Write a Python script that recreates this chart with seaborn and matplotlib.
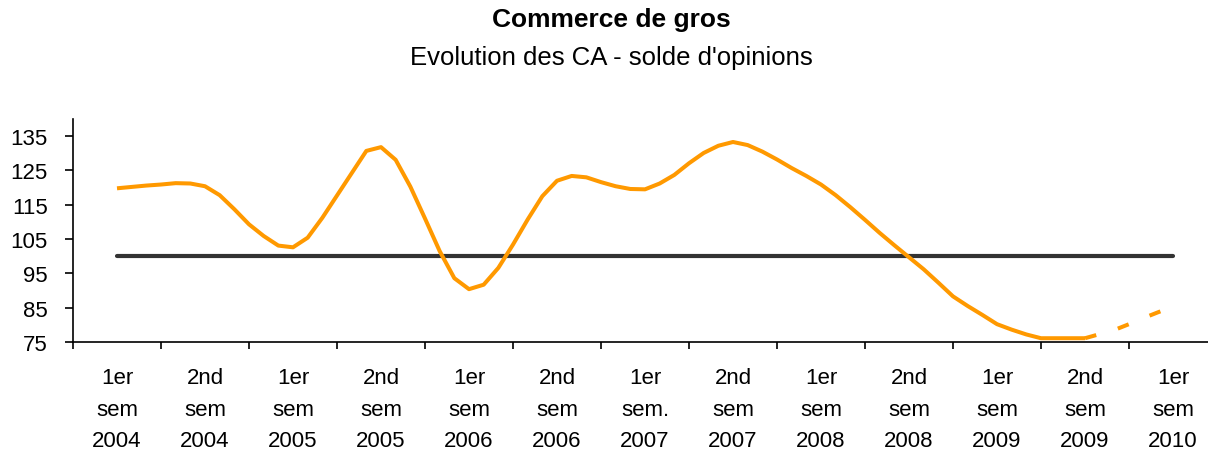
import numpy as np
import pandas as pd
import seaborn as sns
import matplotlib.pyplot as plt
from matplotlib.ticker import FixedLocator, NullFormatter, FixedFormatter

# semester labels on the category axis
semestres = [
    "1er\nsem\n2004", "2nd\nsem\n2004", "1er\nsem\n2005", "2nd\nsem\n2005",
    "1er\nsem\n2006", "2nd\nsem\n2006", "1er\nsem.\n2007", "2nd\nsem\n2007",
    "1er\nsem\n2008", "2nd\nsem\n2008", "1er\nsem\n2009", "2nd\nsem\n2009",
    "1er\nsem\n2010",
]

# monthly index, 0 = middle of first semester 2004
mois_observes = list(range(0, 67))
solde_observe = [
    119.8, 120.2, 120.6, 120.9, 121.3, 121.2, 120.4, 117.8, 113.7, 109.3,
    105.9, 103.1, 102.6, 105.4, 111.2, 117.7, 124.2, 130.7, 131.8, 128.1,
    120.3, 111.0, 101.5, 93.6, 90.4, 91.7, 96.6, 103.4, 110.7, 117.5,
    122.0, 123.4, 123.0, 121.6, 120.4, 119.6, 119.5, 121.2, 123.7, 127.1,
    130.1, 132.2, 133.3, 132.4, 130.5, 128.2, 125.7, 123.4, 120.9, 117.8,
    114.3, 110.6, 106.8, 103.2, 99.7, 96.2, 92.3, 88.3, 85.5, 82.9,
    80.2, 78.6, 77.2, 76.1, 76.1, 76.1, 76.1,
]

# forecast part (dashed)
mois_prevus = list(range(66, 73))
solde_prevu = [76.1, 77.3, 78.5, 80.2, 82.0, 83.7, 85.3]

# reference level
mois_reference = [0, 72]
niveau_reference = [100, 100]

y_ticks = [75, 85, 95, 105, 115, 125, 135]

sns.set_style("white")
plt.rcParams['font.family'] = ['Liberation Sans', 'DejaVu Sans']
plt.rcParams['text.color'] = 'black'
plt.rcParams['xtick.color'] = 'black'
plt.rcParams['ytick.color'] = 'black'

fig = plt.figure(figsize=(12.08, 4.52), dpi=100)
ax = fig.add_axes([73 / 1208, 109 / 452, 1144 / 1208, 223 / 452])

orange = '#FF9900'
sns.lineplot(x=mois_reference, y=niveau_reference, ax=ax, color='#333333',
             linewidth=3.0, solid_capstyle='round')
sns.lineplot(x=mois_observes, y=solde_observe, ax=ax, color=orange,
             linewidth=2.9, solid_capstyle='butt', solid_joinstyle='round')
sns.lineplot(x=mois_prevus, y=solde_prevu, ax=ax, color=orange,
             linewidth=2.9, linestyle=(0, (2.9, 5.6)), dash_capstyle='butt')

ax.set_xlim(-3, 75)
ax.set_ylim(75, 140)

# tick marks on semester boundaries, labels on centres
ax.xaxis.set_major_locator(FixedLocator([-3 + 6 * i for i in range(14)]))
ax.xaxis.set_major_formatter(NullFormatter())
ax.xaxis.set_minor_locator(FixedLocator([6 * i for i in range(len(semestres))]))
ax.xaxis.set_minor_formatter(FixedFormatter(semestres))
ax.tick_params(axis='x', which='major', bottom=True, direction='out', length=5,
               width=1.2, color='black')
ax.tick_params(axis='x', which='minor', bottom=True, length=0, pad=18,
               labelsize=16, labelcolor='black')
for lab in ax.xaxis.get_minorticklabels():
    lab.set_linespacing(1.66)

ax.set_yticks(y_ticks)
ax.tick_params(axis='y', left=True, direction='out', length=6, width=1.2,
               color='black', labelsize=16, labelcolor='black', pad=12)

ax.set_xlabel('')
ax.set_ylabel('')
sns.despine(ax=ax)
for side in ['left', 'bottom']:
    ax.spines[side].set_color('black')
    ax.spines[side].set_linewidth(1.2)

fig.text(611 / 1208, 1 - 20 / 452, 'Commerce de gros', ha='center', va='center',
         fontsize=19, fontweight='bold', color='black')
fig.text(611 / 1208, 1 - 58 / 452, "Evolution des CA - solde d'opinions",
         ha='center', va='center', fontsize=18.5, color='black')

fig.savefig('out.png', dpi=100)
